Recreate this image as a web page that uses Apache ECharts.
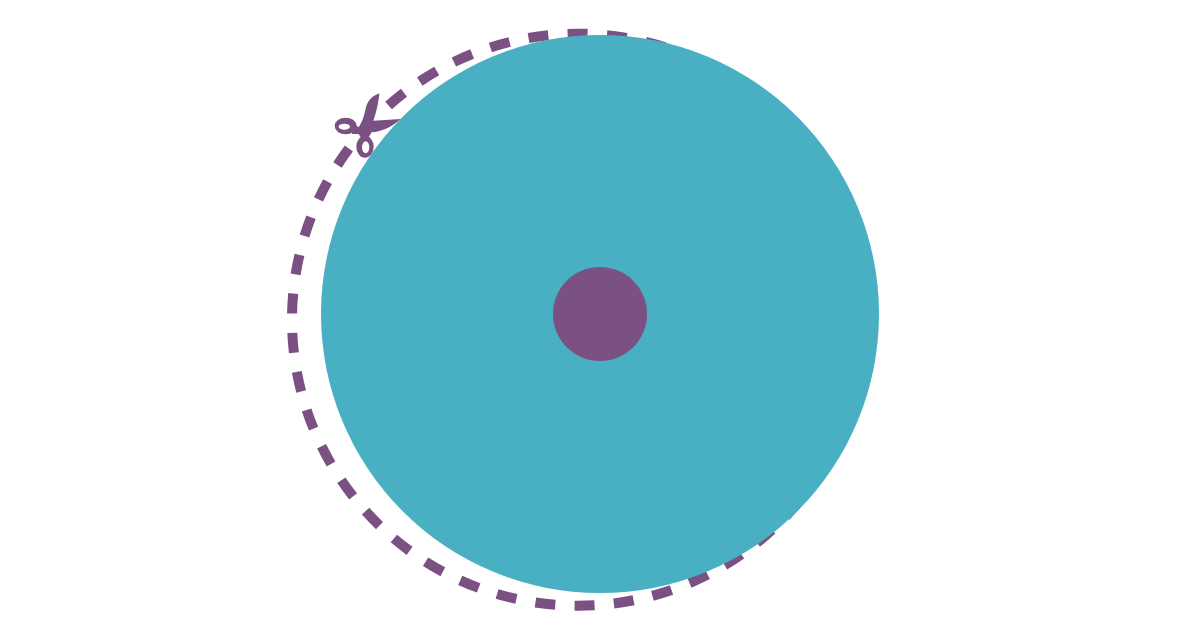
<!DOCTYPE html>
<html><head><meta charset="utf-8">
<style>html,body{margin:0;padding:0;background:#fff}#c{width:1200px;height:628px}</style>
<script src="https://cdn.jsdelivr.net/npm/echarts@6/dist/echarts.min.js"></script>
</head><body><div id="c"></div>
<script>
const discValues = [100];
const hubValues = [100];
const ringNames = ['dash','gap'];
const ringValues = [
4,3.88,4,3.88,4,3.88,4,3.88,4,3.88,4,3.88,4,3.88,4,3.88,4,3.88,4,3.88,
4,3.88,4,3.88,4,3.88,4,3.88,4,3.88,4,3.88,4,3.88,4,3.88,4,3.88,4,3.88,
4,3.88,4,3.88,4,3.88,4,3.88,4,3.88,4,3.88,4,3.88,4,3.88,
0,7.88,
4,3.88,4,3.88,4,3.88,4,3.88,4,3.88,4,3.88,4,3.88,4,3.88,4,3.88,4,3.88,
4,3.88,4,3.88,4,3.88,4,3.88,4,3.88,4,9.28];
const purple = '#7b5083', teal = '#49afc2';
const scissorsPath =
  'M208 70 C206 95 200 125 190 152 L272 147 C250 168 215 186 185 187 L176 202 L152 202 L146 192 L126 192 L130 160 L146 172 C156 156 162 140 166 120 C170 95 185 78 208 70 Z ' +
  'M74 168 A33 25 0 1 1 140 168 A33 25 0 1 1 74 168 Z M86 170 A17 9 0 1 0 120 170 A17 9 0 1 0 86 170 Z ' +
  'M139 230 A26 33 0 1 1 191 230 A26 33 0 1 1 139 230 Z M156 232 A11 18 0 1 0 178 232 A11 18 0 1 0 156 232 Z';
const chart = echarts.init(document.getElementById('c'));
const plain = {label:{show:false},labelLine:{show:false},silent:true,animation:false,emphasis:{disabled:true}};
chart.setOption({
  backgroundColor:'#fff',
  animation:false,
  series:[
    Object.assign({type:'pie',z:1,center:[578,319.7],radius:[281,291],startAngle:360,stillShowZeroSum:false,
      data:ringValues.map((v,i)=>({name:ringNames[i%2],value:v,itemStyle:{color:i%2?'rgba(0,0,0,0)':purple}}))},plain),
    Object.assign({type:'pie',z:2,center:[600,314],radius:[0,279],data:discValues.map(v=>({value:v,itemStyle:{color:teal}}))},plain),
    Object.assign({type:'pie',z:3,center:[600,314],radius:[0,47],data:hubValues.map(v=>({value:v,itemStyle:{color:purple}}))},plain),
    {type:'custom',z:5,coordinateSystem:'none',silent:true,animation:false,data:[0],
      renderItem:()=>({type:'path',x:310,y:70,scaleX:1/3,scaleY:1/3,shape:{pathData:scissorsPath},style:{fill:purple}})}
  ]
});
</script></body></html>
